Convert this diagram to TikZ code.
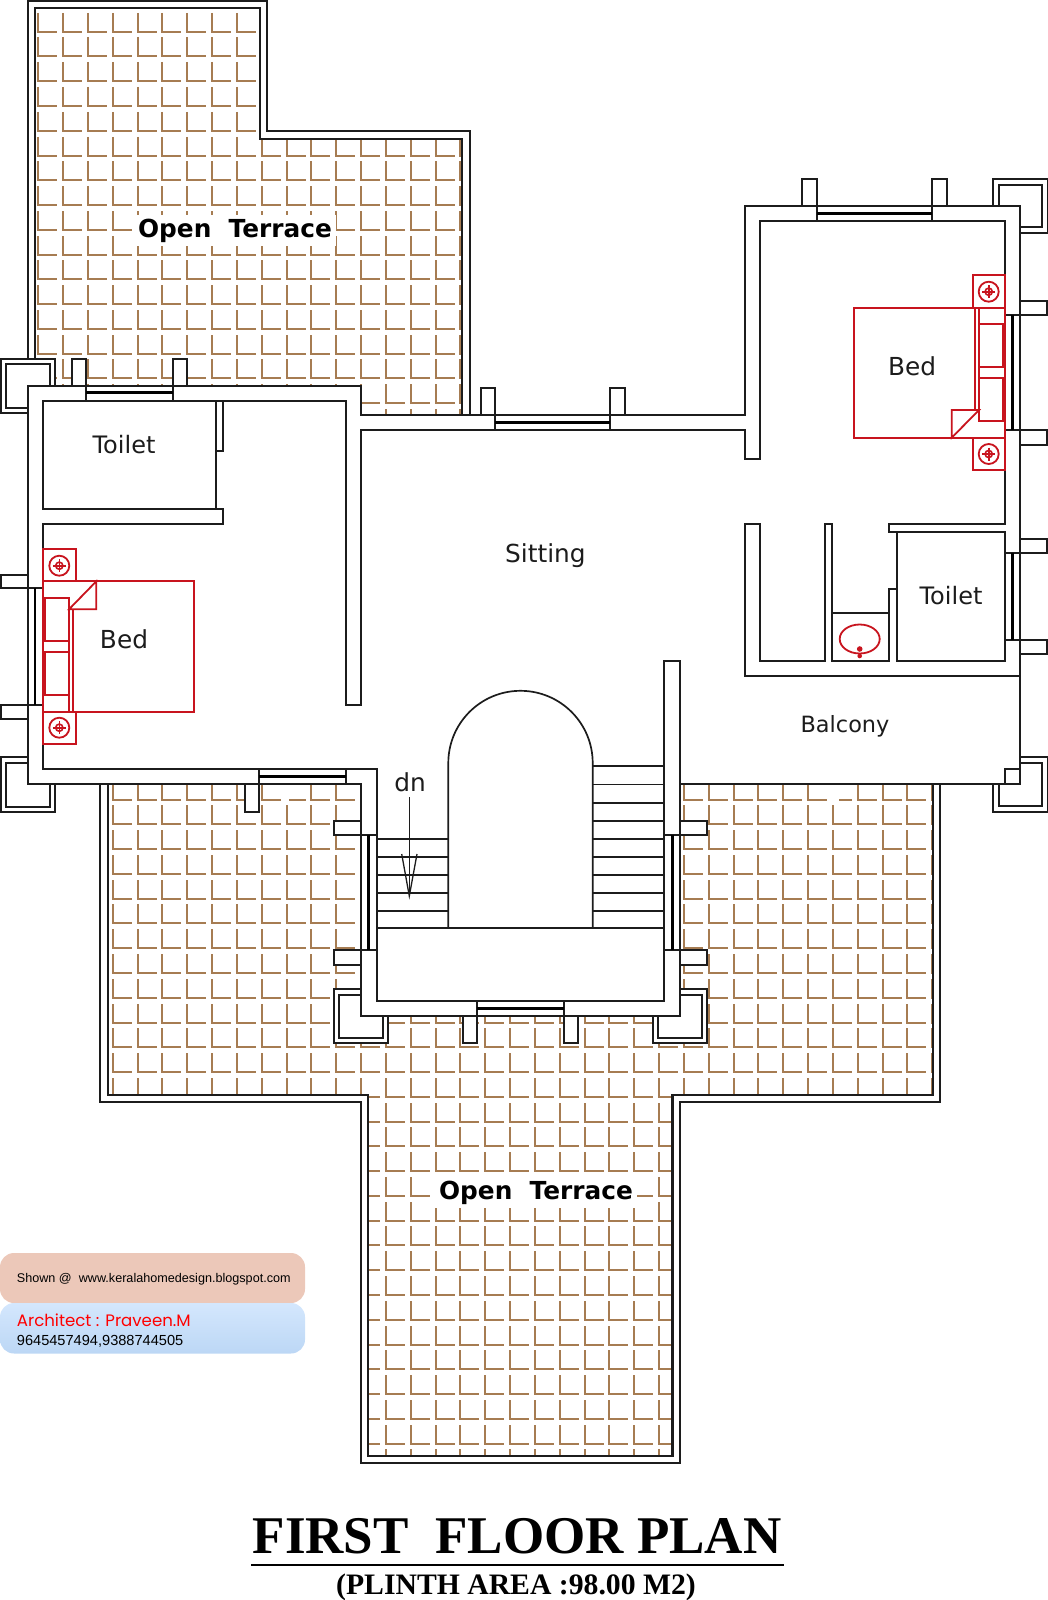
\documentclass[tikz,border=0pt]{standalone}
\usepackage{fontspec}
\setmainfont{DejaVu Sans}
\newfontfamily\ttl{Liberation Serif}
\newfontfamily\lib{Liberation Sans}
\newfontfamily\rnd{Poppins}
\definecolor{tile}{HTML}{A67C52}
\definecolor{ink}{HTML}{1C1C1C}
\definecolor{bedred}{HTML}{C8141E}
\definecolor{pinkbadge}{HTML}{ECC8B9}
\definecolor{bluetop}{HTML}{D4E7FD}
\definecolor{bluebot}{HTML}{BCD7F5}
\tikzset{
  wall/.style={draw=ink,line width=0.85pt,line join=miter},
  terr/.style={draw=ink,line width=1.05pt,line join=miter},
  winbar/.style={draw=black,line width=1.35pt},
  tileln/.style={draw=tile,line width=0.8pt,line join=miter},
  red/.style={draw=bedred,line width=0.9pt},
  roomlbl/.style={font=\fontsize{12.4}{14}\selectfont,inner sep=0pt,text=ink},
  terrlbl/.style={font=\fontsize{12.4}{14}\selectfont\bfseries,fill=white,inner sep=2pt,text=black},
}
\newcommand{\lampmark}[2]{%
  \draw[red,line width=0.9pt] (#1,#2) circle[radius=10];
  \draw[red,line width=0.8pt] (#1,#2) circle[radius=3.6];
  \draw[red,line width=0.8pt] (#1-6.5,#2) -- (#1+6.5,#2) (#1,#2-6.5) -- (#1,#2+6.5);
}
\begin{document}
\begin{tikzpicture}[x=0.5pt,y=-0.5pt]
\useasboundingbox (0,0) rectangle (1048,1600);
% tiles
\begin{scope}
\clip (35,8) -- (260,8) -- (260,139) -- (462.3,139) -- (462.3,415) -- (35,415) -- cycle
      (108.3,784) -- (933,784) -- (933,1095.3) -- (672.5,1095.3) -- (672.5,1456) -- (368.3,1456) -- (368.3,1095.3) -- (108.3,1095.3) -- cycle;
\foreach \i in {0,...,37}{
  \pgfmathsetmacro{\tx}{round(38.3+24.83*\i)}
  \foreach \j in {0,...,59}{
    \pgfmathsetmacro{\ty}{round(31.7+24.77*\j)}
    \draw[tileln] (\tx,\ty-19) -- (\tx,\ty) -- (\tx+19,\ty);
  }
}
\end{scope}
\fill[white] (828,785) rectangle (839,801);
\fill[white] (284,785) rectangle (288.5,801);
% white masks
\fill[white] (1,359) rectangle (55,412.7);
\fill[white] (1,757.3) rectangle (55,811.7);
\fill[white] (334,989.3) rectangle (388.3,1043.3);
\fill[white] (653.3,989.3) rectangle (707.3,1043.3);
\fill[white] (28,386) -- (361,386) -- (361,415) -- (745,415) -- (745,206) -- (1020,206) -- (1020,784.3) -- (680,784.3) -- (680,1016) -- (361,1016) -- (361,784.3) -- (28,784.3) -- cycle;
% terrace walls
\draw[wall] (28,359) -- (28,1) -- (267,1) -- (267,131) -- (470,131) -- (470,415);
\draw[terr] (34.7,359) -- (34.7,8) -- (260,8) -- (260,139) -- (462.3,139) -- (462.3,415);
\draw[wall] (100,784.3) -- (100,1102.3) -- (361,1102.3) -- (361,1463) -- (680,1463) -- (680,1102.3) -- (940.3,1102.3) -- (940.3,784.3);
\draw[terr] (108.3,784.3) -- (108.3,1095.3) -- (368.3,1095.3) -- (368.3,1456) -- (672.5,1456) -- (672.5,1095.3) -- (933,1095.3) -- (933,784.3);
% columns
\draw[wall] (55,386) -- (55,359) -- (1,359) -- (1,412.7) -- (28,412.7);
\draw[wall] (49.7,386) -- (49.7,364.3) -- (6,364.3) -- (6,407.7) -- (28,407.7);
\draw[wall] (28,757.3) -- (1,757.3) -- (1,811.7) -- (55,811.7) -- (55,784.3);
\draw[wall] (28,763.3) -- (6,763.3) -- (6,806.7) -- (49.7,806.7) -- (49.7,784.3);
\draw[wall] (993.3,206) -- (993.3,179) -- (1047.7,179) -- (1047.7,232.7) -- (1020,232.7);
\draw[wall] (998.7,206) -- (998.7,184.7) -- (1042,184.7) -- (1042,227.3) -- (1020,227.3);
\draw[wall] (1020,757.3) -- (1047.7,757.3) -- (1047.7,811.7) -- (993.3,811.7) -- (993.3,784.3);
\draw[wall] (1020,763.3) -- (1042,763.3) -- (1042,806) -- (998.7,806) -- (998.7,784.3);
\draw[wall] (1005,769.3) rectangle (1020,784.3);
\draw[wall] (360.7,989.3) -- (334,989.3) -- (334,1043.3) -- (388.3,1043.3) -- (388.3,1016);
\draw[wall] (360.7,995) -- (339.3,995) -- (339.3,1037.7) -- (383.3,1037.7) -- (383.3,1016);
\draw[wall] (680,989.3) -- (707.3,989.3) -- (707.3,1043.3) -- (653.3,1043.3) -- (653.3,1016);
\draw[wall] (680,995) -- (702,995) -- (702,1037.7) -- (658,1037.7) -- (658,1016);
% building outline
\draw[wall] (28,386) -- (361,386) -- (361,415.3) -- (745,415.3) -- (745,206) -- (1020,206) -- (1020,784.3) -- (680,784.3) -- (680,1016) -- (360.7,1016) -- (360.7,784.3) -- (28,784.3) -- cycle;
% inner walls
\draw[wall] (43.3,401) rectangle (216.3,509);
\draw[wall] (216.3,401) -- (223.3,401) -- (223.3,451) -- (216.3,451);
\draw[wall] (223.3,401) -- (345.7,401) -- (345.7,704.7) -- (361,704.7) -- (361,430.3) -- (745,430.3) -- (745,459.3) -- (760,459.3) -- (760,221.3) -- (1005,221.3) -- (1005,524) -- (889.3,524) -- (889.3,531.7) -- (1005,531.7) -- (1005,661.3) -- (896.7,661.3) -- (896.7,531.7);
\draw[wall] (896.7,589) -- (889.3,589) -- (889.3,661.3) -- (832.3,661.3) -- (832.3,524) -- (825,524) -- (825,661.3) -- (760,661.3) -- (760,524) -- (745,524) -- (745,676.3) -- (1020,676.3);
\draw[wall] (832.3,613.3) -- (889.3,613.3);
\draw[wall] (216.3,509) -- (223.3,509) -- (223.3,524) -- (43.3,524) -- (43.3,769.3) -- (376.7,769.3) -- (376.7,1000.7) -- (664.3,1000.7) -- (664.3,661) -- (680,661) -- (680,784.3);
\draw[wall] (376.7,928.3) -- (664.3,928.3);
% arch and steps
\draw[wall] (448.3,928.3) -- (448.3,763) arc[start angle=180,end angle=360,radius=72.2] -- (592.7,928.3);
\foreach \y in {766,784.5,802.7,820.7,838.7,856.7,874.7,892.7,910.7}{\draw[wall] (592.7,\y) -- (664.3,\y);}
\foreach \y in {838.7,856.7,874.7,892.7,910.7}{\draw[wall] (376.7,\y) -- (448.3,\y);}
% windows
\draw[wall] (86,386) -- (86,401) (172.7,386) -- (172.7,401);
\draw[winbar] (86,392.7) -- (172.7,392.7);
\draw[wall,fill=white] (71.7,359) rectangle (86,386);
\draw[wall,fill=white] (172.7,359) rectangle (187.3,386);
\draw[wall] (495.3,415.3) -- (495.3,430.3) (610,415.3) -- (610,430.3);
\draw[winbar] (495.3,422.7) -- (610,422.7);
\draw[wall,fill=white] (480.7,388) rectangle (495.3,415.3);
\draw[wall,fill=white] (610,388) rectangle (625,415.3);
\draw[wall] (817,206) -- (817,221.3) (932,206) -- (932,221.3);
\draw[winbar] (817,213.7) -- (932,213.7);
\draw[wall,fill=white] (802.3,179) rectangle (817,206);
\draw[wall,fill=white] (932,179) rectangle (947,206);
\draw[wall] (28,588.3) -- (43.3,588.3) (28,704.7) -- (43.3,704.7);
\draw[winbar] (35,588.3) -- (35,704.7);
\draw[wall,fill=white] (1,575) rectangle (28,588.3);
\draw[wall,fill=white] (1,704.7) rectangle (28,719);
\draw[wall] (259,769.3) -- (259,784.3) (345.7,769.3) -- (345.7,784.3);
\draw[winbar] (259,776.7) -- (345.7,776.7);
\draw[wall,fill=white] (245,784.3) rectangle (259,811.7);
\draw[wall] (1005,315.3) -- (1020,315.3) (1005,430) -- (1020,430);
\draw[winbar] (1012.3,315.3) -- (1012.3,430);
\draw[wall,fill=white] (1020,301) rectangle (1047.3,315.3);
\draw[wall,fill=white] (1020,430) rectangle (1047.3,445);
\draw[wall] (1005,553.3) -- (1020,553.3) (1005,640) -- (1020,640);
\draw[winbar] (1012.3,553.3) -- (1012.3,640);
\draw[wall,fill=white] (1020,539) rectangle (1047.3,553.3);
\draw[wall,fill=white] (1020,640) rectangle (1047.3,654);
\draw[wall] (360.7,835) -- (376.7,835) (360.7,950) -- (376.7,950);
\draw[winbar] (368.3,835) -- (368.3,950);
\draw[wall,fill=white] (334,820.7) rectangle (360.7,835);
\draw[wall,fill=white] (334,950) rectangle (360.7,965);
\draw[wall] (664.3,835) -- (680,835) (664.3,950) -- (680,950);
\draw[winbar] (672.3,835) -- (672.3,950);
\draw[wall,fill=white] (680,820.7) rectangle (707.3,835);
\draw[wall,fill=white] (680,950) rectangle (707.3,965);
\draw[wall] (476.7,1000.7) -- (476.7,1016) (563.7,1000.7) -- (563.7,1016);
\draw[winbar] (476.7,1008.3) -- (563.7,1008.3);
\draw[wall,fill=white] (462.7,1016) rectangle (476.7,1043.3);
\draw[wall,fill=white] (563.7,1016) rectangle (578.3,1043.3);
% red left bed
\draw[red] (43.3,549.3) rectangle (75.7,581.3);
\draw[red] (43.3,711.7) rectangle (75.7,744.3);
\lampmark{59.3}{565.7}
\lampmark{59.3}{727.7}
\draw[red] (43.3,581.3) rectangle (194.3,711.7);
\draw[red] (69,609.3) -- (69,711.7) (73,609.3) -- (73,711.7);
\draw[red] (45,598.3) rectangle (69,641);
\draw[red] (45,652.3) rectangle (69,695);
\draw[red] (96.3,581.3) -- (96.3,609.3) -- (69,609.3) -- cycle;
% red right bed
\draw[red] (972.7,275.3) rectangle (1005,307.7);
\draw[red] (972.7,437.7) rectangle (1005,470);
\lampmark{988.7}{291.7}
\lampmark{988.7}{454}
\draw[red] (853.7,307.7) rectangle (1005,437.7);
\draw[red] (975,307.7) -- (975,410) (979.3,307.7) -- (979.3,410);
\draw[red] (979.3,324.3) rectangle (1002.7,367.3);
\draw[red] (979.3,378) rectangle (1002.7,421.3);
\draw[red] (951.7,437.7) -- (951.7,410) -- (979,410) -- cycle;
% sink
\draw[red] (859.7,639) ellipse[x radius=20,y radius=14.5];
\fill[bedred] (859.7,649) circle[radius=2.8] (859.7,656) circle[radius=2.3];
% dn arrow
\draw[draw=ink,line width=0.65pt] (409.3,797.3) -- (409.3,896);
\draw[draw=ink,line width=0.65pt] (401.7,854) -- (409.3,896) -- (417,854);
% labels
\node[terrlbl] (t1) at (235,230.5) {Open\ \ Terrace};
\node[terrlbl] (t2) at (536,1192.5) {Open\ \ Terrace};
\node[roomlbl,font=\fontsize{12}{14}\selectfont] (l1) at (124,444.5) {Toilet};
\node[roomlbl] (l2) at (124,639.5) {Bed};
\node[roomlbl] (l3) at (912,366) {Bed};
\node[roomlbl,font=\fontsize{12}{14}\selectfont] (l4) at (951,596) {Toilet};
\node[roomlbl,font=\fontsize{11.2}{14}\selectfont] (l5) at (845,726.5) {Balcony};
\node[roomlbl] (l6) at (545.4,556) {Sitting};
\node[roomlbl] (l7) at (410,782) {dn};
% badges
\fill[pinkbadge,rounded corners=7pt] (0,1253) rectangle (305,1303);
\shade[top color=bluetop,bottom color=bluebot,rounded corners=7pt] (0,1303) rectangle (305,1353.5);
\node[anchor=west,inner sep=0pt,font=\lib\fontsize{6.31}{8}\selectfont] (b1) at (16.5,1279.5) {Shown @\ \ www.keralahomedesign.blogspot.com};
\node[anchor=west,inner sep=0pt,text=red,font=\rnd\fontsize{8.3}{11}\selectfont] (b2) at (16.5,1320) {Architect : Praveen.M};
\node[anchor=west,inner sep=0pt,font=\lib\fontsize{7.3}{9}\selectfont] (b3) at (16.5,1341) {9645457494,9388744505};
% title
\node[inner sep=0pt,font=\ttl\bfseries\fontsize{26.5}{30}\selectfont] (t3) at (517,1536) {FIRST\ \ FLOOR PLAN};
\coordinate (ra) at (251,1564.7);
\coordinate (rb) at (783.7,1564.7);
\draw[draw=black,line width=0.85pt] (ra) -- (rb);
\node[inner sep=0pt,font=\ttl\bfseries\fontsize{14.85}{18}\selectfont] (t4) at (516,1587) {(PLINTH AREA :98.00 M2)};
\end{tikzpicture}
\end{document}
